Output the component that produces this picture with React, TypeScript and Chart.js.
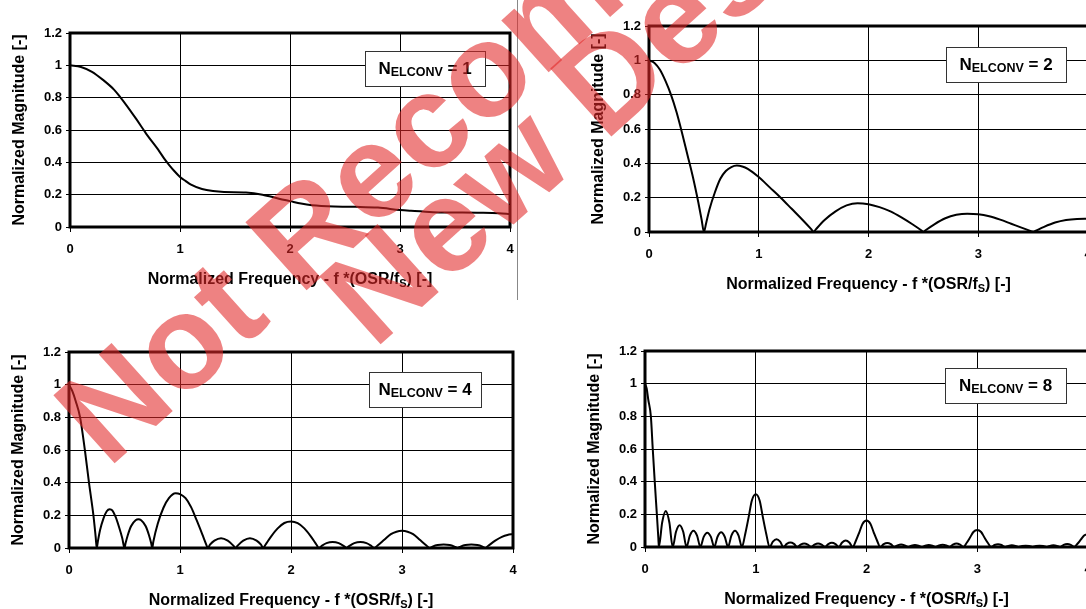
import React, { useEffect, useRef } from "react";
import { Chart, registerables } from "chart.js";

Chart.register(...registerables);

const FONT = '"Liberation Sans", Arial, Helvetica, sans-serif';

const X_TICKS = [0, 1, 2, 3, 4];
const X_TICK_LABELS = ["0", "1", "2", "3", "4"];
const Y_TICKS = [0, 0.2, 0.4, 0.6, 0.8, 1, 1.2];
const Y_TICK_LABELS = ["0", "0.2", "0.4", "0.6", "0.8", "1", "1.2"];
const Y_TITLE = "Normalized Magnitude [-]";
const X_TITLE_PARTS = ["Normalized Frequency - f *(OSR/f", "S", ") [-]"];
const LEGEND_PARTS = ["N", "ELCONV", " = "];
const N_LABELS = ["1", "2", "4", "8"];
const WATERMARK_LINES = ["Not Recommended for", "New Designs"];

// N_ELCONV = 1
const N1_X = [0, 0.1, 0.2, 0.3, 0.4, 0.46, 0.5, 0.6, 0.67, 0.7, 0.8, 0.86, 0.9, 0.95, 1.0, 1.05, 1.1, 1.2, 1.3, 1.4, 1.6, 1.75, 1.9, 2.0, 2.1, 2.2, 2.4, 2.6, 2.8, 3.0, 3.1, 3.3, 3.5, 3.7, 3.9, 4.0];
const N1_Y = [1.0, 0.99, 0.96, 0.91, 0.85, 0.8, 0.765, 0.67, 0.6, 0.57, 0.48, 0.42, 0.385, 0.345, 0.31, 0.285, 0.262, 0.235, 0.222, 0.216, 0.213, 0.2, 0.175, 0.16, 0.145, 0.135, 0.127, 0.125, 0.12, 0.105, 0.1, 0.092, 0.09, 0.088, 0.085, 0.08];

// N_ELCONV = 2
const N2_X = [0, 0.05, 0.1, 0.15, 0.2, 0.25, 0.3, 0.35, 0.4, 0.45, 0.48, 0.5,
  0.52, 0.55, 0.6, 0.65, 0.7, 0.75, 0.8, 0.85, 0.9, 1.0, 1.1, 1.2, 1.3, 1.4, 1.48, 1.5,
  1.52, 1.6, 1.7, 1.8, 1.9, 2.0, 2.1, 2.2, 2.3, 2.4, 2.48, 2.5,
  2.52, 2.6, 2.7, 2.8, 2.9, 3.0, 3.1, 3.2, 3.3, 3.4, 3.48, 3.5,
  3.52, 3.6, 3.7, 3.8, 3.9, 4.0];
const N2_Y = [1.0, 0.985, 0.945, 0.88, 0.8, 0.7, 0.58, 0.45, 0.32, 0.17, 0.07, 0,
  0.05, 0.13, 0.23, 0.31, 0.355, 0.378, 0.387, 0.382, 0.368, 0.32, 0.26, 0.2, 0.135, 0.07, 0.015, 0,
  0.015, 0.07, 0.12, 0.155, 0.168, 0.162, 0.145, 0.12, 0.085, 0.045, 0.01, 0,
  0.01, 0.045, 0.08, 0.1, 0.107, 0.104, 0.092, 0.072, 0.048, 0.024, 0.005, 0,
  0.006, 0.03, 0.055, 0.07, 0.076, 0.077];

// N_ELCONV = 4
const N4_X = [0, 0.03, 0.06, 0.1, 0.143, 0.18, 0.22, 0.24, 0.25,
  0.26, 0.28, 0.31, 0.34, 0.367, 0.39, 0.42, 0.45, 0.48, 0.5,
  0.51, 0.53, 0.56, 0.6, 0.625, 0.65, 0.69, 0.72, 0.74, 0.75,
  0.76, 0.8, 0.85, 0.9, 0.96, 1.0, 1.05, 1.1, 1.15, 1.2, 1.24, 1.25,
  1.27, 1.31, 1.37, 1.43, 1.48, 1.5,
  1.52, 1.57, 1.63, 1.69, 1.73, 1.75,
  1.77, 1.82, 1.88, 1.94, 2.0, 2.06, 2.12, 2.18, 2.23, 2.25,
  2.28, 2.32, 2.375, 2.43, 2.48, 2.5,
  2.52, 2.57, 2.625, 2.68, 2.72, 2.75,
  2.78, 2.84, 2.9, 2.95, 3.0, 3.05, 3.1, 3.16, 3.22, 3.25,
  3.28, 3.32, 3.375, 3.43, 3.48, 3.5,
  3.52, 3.57, 3.625, 3.68, 3.72, 3.75,
  3.78, 3.84, 3.9, 3.95, 4.0];
const N4_Y = [1.0, 0.96, 0.9, 0.8, 0.6, 0.4, 0.2, 0.07, 0,
  0.04, 0.11, 0.18, 0.225, 0.237, 0.23, 0.19, 0.13, 0.06, 0,
  0.03, 0.08, 0.135, 0.17, 0.176, 0.17, 0.135, 0.08, 0.03, 0,
  0.04, 0.15, 0.245, 0.305, 0.335, 0.33, 0.305, 0.25, 0.17, 0.085, 0.015, 0,
  0.02, 0.045, 0.06, 0.045, 0.015, 0,
  0.015, 0.045, 0.06, 0.045, 0.02, 0,
  0.02, 0.07, 0.12, 0.153, 0.162, 0.152, 0.12, 0.07, 0.02, 0,
  0.015, 0.03, 0.037, 0.03, 0.01, 0,
  0.01, 0.03, 0.037, 0.03, 0.015, 0,
  0.015, 0.05, 0.085, 0.1, 0.105, 0.1, 0.085, 0.05, 0.015, 0,
  0.01, 0.018, 0.022, 0.018, 0.006, 0,
  0.006, 0.018, 0.022, 0.018, 0.01, 0,
  0.015, 0.045, 0.068, 0.08, 0.085];

// N_ELCONV = 8
const N8_X = [0, 0.015, 0.03, 0.053, 0.07, 0.088, 0.107, 0.12, 0.125,
  0.155, 0.1875, 0.22, 0.25,
  0.28, 0.3125, 0.345, 0.375,
  0.405, 0.4375, 0.47, 0.5,
  0.53, 0.5625, 0.595, 0.625,
  0.655, 0.6875, 0.72, 0.75,
  0.78, 0.8125, 0.845, 0.875,
  0.905, 0.935, 0.965, 1.0, 1.035, 1.065, 1.095, 1.125,
  1.155, 1.1875, 1.22, 1.25,
  1.28, 1.3125, 1.345, 1.375,
  1.405, 1.4375, 1.47, 1.5,
  1.53, 1.5625, 1.595, 1.625,
  1.655, 1.6875, 1.72, 1.75,
  1.78, 1.8125, 1.845, 1.875,
  1.905, 1.935, 1.965, 2.0, 2.035, 2.065, 2.095, 2.125,
  2.155, 2.1875, 2.22, 2.25,
  2.28, 2.3125, 2.345, 2.375,
  2.405, 2.4375, 2.47, 2.5,
  2.53, 2.5625, 2.595, 2.625,
  2.655, 2.6875, 2.72, 2.75,
  2.78, 2.8125, 2.845, 2.875,
  2.905, 2.935, 2.965, 3.0, 3.035, 3.065, 3.095, 3.125,
  3.155, 3.1875, 3.22, 3.25,
  3.28, 3.3125, 3.345, 3.375,
  3.405, 3.4375, 3.47, 3.5,
  3.53, 3.5625, 3.595, 3.625,
  3.655, 3.6875, 3.72, 3.75,
  3.78, 3.8125, 3.845, 3.875,
  3.905, 3.935, 3.965, 4.0];
const N8_Y = [1.0, 0.97, 0.9, 0.8, 0.6, 0.4, 0.2, 0.06, 0,
  0.15, 0.22, 0.15, 0,
  0.093, 0.133, 0.093, 0,
  0.07, 0.1, 0.07, 0,
  0.062, 0.088, 0.062, 0,
  0.063, 0.09, 0.063, 0,
  0.07, 0.1, 0.07, 0,
  0.08, 0.18, 0.285, 0.323, 0.285, 0.18, 0.08, 0,
  0.033, 0.047, 0.033, 0,
  0.019, 0.027, 0.019, 0,
  0.015, 0.022, 0.015, 0,
  0.015, 0.022, 0.015, 0,
  0.018, 0.026, 0.018, 0,
  0.028, 0.04, 0.028, 0,
  0.04, 0.09, 0.143, 0.162, 0.143, 0.09, 0.04, 0,
  0.018, 0.025, 0.018, 0,
  0.01, 0.015, 0.01, 0,
  0.008, 0.012, 0.008, 0,
  0.008, 0.012, 0.008, 0,
  0.01, 0.014, 0.01, 0,
  0.015, 0.022, 0.015, 0,
  0.026, 0.058, 0.092, 0.104, 0.092, 0.058, 0.026, 0,
  0.012, 0.017, 0.012, 0,
  0.007, 0.01, 0.007, 0,
  0.006, 0.008, 0.006, 0,
  0.006, 0.008, 0.006, 0,
  0.007, 0.01, 0.007, 0,
  0.013, 0.018, 0.013, 0,
  0.02, 0.045, 0.07, 0.08];

type Area = { l: number; t: number; r: number; b: number };
type Box = { dx: number; dy: number; w: number; h: number };

const PAD_L = 68;
const PAD_T = 20;
const PAD_R = 15;
const PAD_B = 65;
const Y_AXIS_W = 40;
const X_AXIS_H = 30;

function Panel(props: { xs: number[]; ys: number[]; label: string; area: Area; box: Box }) {
  const { xs, ys, label, area, box } = props;
  const ref = useRef<HTMLCanvasElement>(null);
  const left = area.l - PAD_L;
  const top = area.t - PAD_T;
  const width = area.r + PAD_R - left;
  const height = area.b + PAD_B - top;

  useEffect(() => {
    const canvas = ref.current;
    if (!canvas) return;
    const data = xs.map((x, i) => ({ x, y: ys[i] }));
    const decor = {
      id: "decor",
      afterDatasetsDraw(chart: any) {
        const { ctx, chartArea: a } = chart;
        ctx.save();
        ctx.strokeStyle = "#000";
        ctx.lineWidth = 3;
        ctx.strokeRect(a.left, a.top, a.right - a.left, a.bottom - a.top);
        ctx.restore();
      },
      afterDraw(chart: any) {
        const { ctx, chartArea: a } = chart;
        ctx.save();
        ctx.fillStyle = "#000";
        ctx.save();
        ctx.translate(a.left - 50, (a.top + a.bottom) / 2);
        ctx.rotate(-Math.PI / 2);
        ctx.font = `bold 16px ${FONT}`;
        ctx.textAlign = "center";
        ctx.textBaseline = "middle";
        ctx.fillText(Y_TITLE, 0, 0);
        ctx.restore();
        const bigT = `bold 16px ${FONT}`;
        const smallT = `bold 11px ${FONT}`;
        ctx.textAlign = "left";
        ctx.textBaseline = "alphabetic";
        ctx.font = bigT;
        const t1 = ctx.measureText(X_TITLE_PARTS[0]).width;
        const t3 = ctx.measureText(X_TITLE_PARTS[2]).width;
        ctx.font = smallT;
        const t2 = ctx.measureText(X_TITLE_PARTS[1]).width;
        let tx = (a.left + a.right) / 2 - (t1 + t2 + t3) / 2;
        const ty = a.bottom + 51 + 5.7;
        ctx.font = bigT;
        ctx.fillText(X_TITLE_PARTS[0], tx, ty);
        tx += t1;
        ctx.font = smallT;
        ctx.fillText(X_TITLE_PARTS[1], tx, ty + 3.5);
        tx += t2;
        ctx.font = bigT;
        ctx.fillText(X_TITLE_PARTS[2], tx, ty);
        const bx = Math.round(a.left + box.dx);
        const by = Math.round(a.top + box.dy);
        ctx.fillStyle = "#fff";
        ctx.fillRect(bx, by, box.w, box.h);
        ctx.strokeStyle = "#333";
        ctx.lineWidth = 1;
        ctx.strokeRect(bx + 0.5, by + 0.5, box.w, box.h);
        ctx.fillStyle = "#000";
        const bigL = `bold 17px ${FONT}`;
        const smallL = `bold 12.5px ${FONT}`;
        ctx.font = bigL;
        const w1 = ctx.measureText(LEGEND_PARTS[0]).width;
        const w3 = ctx.measureText(LEGEND_PARTS[2] + label).width;
        ctx.font = smallL;
        const w2 = ctx.measureText(LEGEND_PARTS[1]).width;
        let lx = bx + (box.w - (w1 + w2 + w3)) / 2;
        const base = by + 22.5;
        ctx.font = bigL;
        ctx.fillText(LEGEND_PARTS[0], lx, base);
        lx += w1;
        ctx.font = smallL;
        ctx.fillText(LEGEND_PARTS[1], lx, base + 2);
        lx += w2;
        ctx.font = bigL;
        ctx.fillText(LEGEND_PARTS[2] + label, lx, base);
        ctx.restore();
      },
    };
    const tickFont = { family: FONT, size: 13, weight: "bold" as const };
    const chart = new Chart(canvas, {
      type: "line",
      data: {
        datasets: [
          {
            data,
            borderColor: "#000",
            borderWidth: 2,
            pointRadius: 0,
            fill: false,
            cubicInterpolationMode: "monotone",
          },
        ],
      },
      options: {
        responsive: false,
        animation: false,
        devicePixelRatio: 1,
        events: [],
        layout: {
          padding: { left: PAD_L - Y_AXIS_W, top: PAD_T, right: PAD_R, bottom: PAD_B - X_AXIS_H },
        },
        plugins: { legend: { display: false }, tooltip: { enabled: false } },
        scales: {
          x: {
            type: "linear",
            min: 0,
            max: 4,
            afterFit: (s: any) => {
              s.height = X_AXIS_H;
            },
            afterBuildTicks: (s: any) => {
              s.ticks = X_TICKS.map((v) => ({ value: v }));
            },
            ticks: {
              callback: (_v: any, i: number) => X_TICK_LABELS[i],
              font: tickFont,
              color: "#000",
              padding: 10,
              maxRotation: 0,
              autoSkip: false,
            },
            grid: { color: "#000", lineWidth: 1, tickLength: 5, drawTicks: true },
            border: { display: false },
          },
          y: {
            type: "linear",
            min: 0,
            max: 1.2,
            afterFit: (s: any) => {
              s.width = Y_AXIS_W;
            },
            afterBuildTicks: (s: any) => {
              s.ticks = Y_TICKS.map((v) => ({ value: v }));
            },
            ticks: {
              callback: (_v: any, i: number) => Y_TICK_LABELS[i],
              font: tickFont,
              color: "#000",
              padding: 4,
              autoSkip: false,
            },
            grid: { color: "#000", lineWidth: 1, tickLength: 4, drawTicks: true },
            border: { display: false },
          },
        },
      } as any,
      plugins: [decor],
    });
    return () => chart.destroy();
  }, []);

  return (
    <canvas
      ref={ref}
      width={width}
      height={height}
      style={{ position: "absolute", left, top, width, height, display: "block" }}
    />
  );
}

const wmStyle = {
  position: "absolute" as const,
  transform: "rotate(-42deg)",
  transformOrigin: "0 0",
  color: "rgba(225, 40, 40, 0.58)",
  font: `bold 133px ${FONT}`,
  lineHeight: 1,
  whiteSpace: "pre" as const,
  pointerEvents: "none" as const,
};

export default function App() {
  return (
    <div
      style={{
        position: "absolute",
        left: 0,
        top: 0,
        width: 1086,
        height: 609,
        overflow: "hidden",
        background: "#fff",
      }}
    >
      <div style={{ position: "absolute", left: 517, top: 0, width: 1, height: 300, background: "#888" }} />
      <Panel xs={N1_X} ys={N1_Y} label={N_LABELS[0]} area={{ l: 70, t: 33, r: 510, b: 227 }} box={{ dx: 295, dy: 18, w: 120, h: 35 }} />
      <Panel xs={N2_X} ys={N2_Y} label={N_LABELS[1]} area={{ l: 649, t: 26, r: 1088, b: 232 }} box={{ dx: 297, dy: 21, w: 120, h: 35 }} />
      <Panel xs={N4_X} ys={N4_Y} label={N_LABELS[2]} area={{ l: 69, t: 352, r: 513, b: 548 }} box={{ dx: 300, dy: 20, w: 112, h: 35 }} />
      <Panel xs={N8_X} ys={N8_Y} label={N_LABELS[3]} area={{ l: 645, t: 351, r: 1088, b: 547 }} box={{ dx: 300, dy: 17, w: 121, h: 35 }} />
      <div style={{ ...wmStyle, left: 33, top: 386 }}>{WATERMARK_LINES[0]}</div>
      <div style={{ ...wmStyle, left: 299, top: 267 }}>{WATERMARK_LINES[1]}</div>
    </div>
  );
}
